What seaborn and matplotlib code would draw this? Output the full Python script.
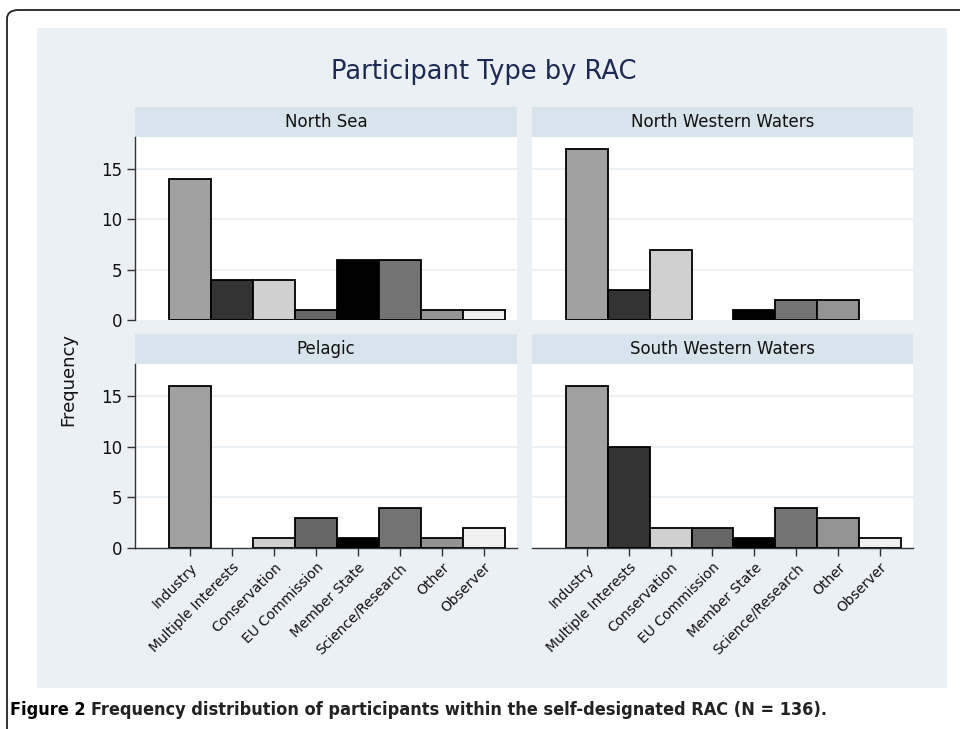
import matplotlib
matplotlib.use("Agg")
import matplotlib.pyplot as plt
from matplotlib.patches import Rectangle, FancyBboxPatch
import seaborn as sns
import pandas as pd

# data
types = ["Industry", "Multiple Interests", "Conservation", "EU Commission",
         "Member State", "Science/Research", "Other", "Observer"]
north_sea = [14, 4, 4, 1, 6, 6, 1, 1]
north_western = [17, 3, 7, 0, 1, 2, 2, 0]
pelagic = [16, 0, 1, 3, 1, 4, 1, 2]
south_western = [16, 10, 2, 2, 1, 4, 3, 1]
racs = ["North Sea", "North Western Waters", "Pelagic", "South Western Waters"]
bar_colors = ["#a1a1a1", "#333333", "#d0d0d0", "#666666",
              "#000000", "#737373", "#939393", "#f0f0f0"]

rows = []
for rac, vals in zip(racs, [north_sea, north_western, pelagic, south_western]):
    for t, v in zip(types, vals):
        rows.append({"rac": rac, "type": t, "count": v})
df = pd.DataFrame(rows)
palette = dict(zip(types, bar_colors))

sns.set_theme(style="white")
plt.rcParams["font.family"] = ["DejaVu Sans"]

W, H = 960, 729
fig = plt.figure(figsize=(W / 100, H / 100), dpi=100)
fig.patch.set_facecolor("white")

# outer rounded frame and light panel
fig.patches.append(FancyBboxPatch((7 / W, -0.05), 1.05, 1 - 10 / H + 0.05,
                                  boxstyle="round,pad=0,rounding_size=0.012",
                                  transform=fig.transFigure, fc="none", ec="#222222",
                                  lw=1.3, zorder=-2))
fig.patches.append(Rectangle((37 / W, 1 - 688 / H), (947 - 37) / W, (688 - 28) / H,
                             transform=fig.transFigure, fc="#eaf0f4", ec="none", zorder=-1))


def pos(x0, x1, y0, y1):
    return [x0 / W, 1 - y1 / H, (x1 - x0) / W, (y1 - y0) / H]


boxes = [pos(135, 517, 137, 320), pos(532, 913, 137, 320),
         pos(135, 517, 364, 548), pos(532, 913, 364, 548)]
strip_h = 30

for i, rac in enumerate(racs):
    ax = fig.add_axes(boxes[i])
    ax.set_zorder(1)
    sub = df[(df["rac"] == rac) & (df["count"] > 0)]
    sns.barplot(data=sub, x="type", y="count", hue="type", order=types,
                palette=palette, legend=False, width=1.0, saturation=1,
                edgecolor="black", linewidth=1.3, ax=ax, zorder=3)
    ax.set_facecolor("white")
    ax.set_xlim(-1.31, 7.79)
    ax.set_ylim(0, 18.2)
    ax.set_yticks([0, 5, 10, 15])
    for g in [5, 10, 15]:
        ax.axhline(g, color="#e8eef2", lw=1.2, zorder=1)
    ax.set_xlabel("")
    ax.set_ylabel("")
    for s in ["top", "right"]:
        ax.spines[s].set_visible(False)
    left = i % 2 == 0
    bottom = i >= 2
    ax.spines["left"].set_visible(left)
    ax.spines["left"].set_color("#333333")
    ax.spines["bottom"].set_visible(bottom)
    ax.spines["bottom"].set_color("#333333")
    ax.spines["left"].set_linewidth(1.0)
    ax.spines["bottom"].set_linewidth(1.0)
    if left:
        ax.tick_params(axis="y", left=True, length=6, width=1, color="#333333",
                       labelsize=12, pad=3, labelcolor="#111111")
    else:
        ax.tick_params(axis="y", left=False, labelleft=False)
    if bottom:
        ax.tick_params(axis="x", bottom=True, length=6, width=1, color="#333333",
                       labelsize=10, pad=3, labelcolor="#111111")
        ax.set_xticks(range(len(types)))
        ax.set_xticklabels(types, rotation=45, ha="right", rotation_mode="anchor")
    else:
        ax.tick_params(axis="x", bottom=False, labelbottom=False)
    # facet strip
    hfrac = strip_h / (boxes[i][3] * H)
    ax.add_patch(Rectangle((0, 1), 1, hfrac, transform=ax.transAxes,
                           fc="#d8e4ec", ec="none", clip_on=False))
    ax.text(0.5, 1 + hfrac / 2, rac, transform=ax.transAxes, ha="center",
            va="center", fontsize=12, color="#111111")

fig.text(484 / W, 1 - 72 / H, "Participant Type by RAC", ha="center", va="center",
         fontsize=18.5, color="#1c2b55")
fig.text(68 / W, 1 - 380 / H, "Frequency", rotation=90, ha="center", va="center",
         fontsize=13, color="#111111")

t1 = fig.text(10 / W, 1 - 710 / H, "Figure 2", ha="left", va="center",
              fontsize=13, fontweight="heavy", fontstretch="condensed", color="#000000")
fig.canvas.draw()
bb = t1.get_window_extent(renderer=fig.canvas.get_renderer())
fig.text(bb.x1 / W + 5 / W, 1 - 710 / H,
         "Frequency distribution of participants within the self-designated RAC (N = 136).",
         ha="left", va="center", fontsize=13, fontweight="bold",
         fontstretch="condensed", color="#222222")

fig.savefig("out.png", dpi=100)
